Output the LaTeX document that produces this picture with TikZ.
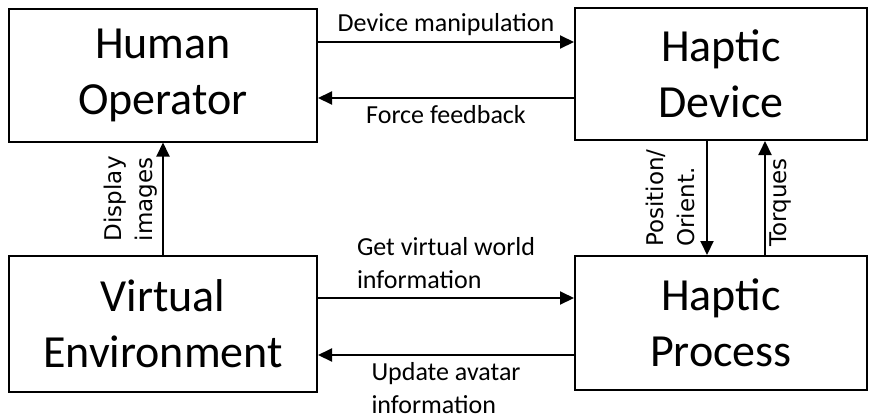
\documentclass[tikz,border=0pt]{standalone}
\usepackage{fontspec}
\setmainfont{Carlito}
\newfontfamily\sidefont{DejaVu Sans}
\usepackage{tikz}
\usetikzlibrary{arrows.meta}

\begin{document}
\begin{tikzpicture}[x=1pt,y=-1pt,
	block/.style={shape=rectangle,draw=black,line width=2pt,align=center,
		inner sep=0pt,font=\fontsize{46}{56}\selectfont},
	flow/.style={line width=2pt,-{Triangle[length=14pt,width=13pt]}},
	lbl/.style={font=\fontsize{26}{33}\selectfont,align=left},
	vlbl/.style={font=\sidefont\fontsize{23}{31}\selectfont,align=left,rotate=90}]
	
	\useasboundingbox (0,0) rectangle (874,418);
	
	\node[block,minimum width=308pt,minimum height=133pt] (ho) at (163, 75)  {Human\\Operator};
	\node[block,minimum width=292pt,minimum height=132pt] (hd) at (721, 74)  {Haptic\\Device};
	\node[block,minimum width=308pt,minimum height=136pt] (ve) at (163, 324) {Virtual\\Environment};
	\node[block,minimum width=292pt,minimum height=134pt] (hp) at (721, 323) {Haptic\\Process};
	
	\draw[flow] ([yshift=33pt]ho.east) -- ([yshift=33pt]ho.east -| hd.west)
		node[lbl,midway,above,inner sep=5pt] {Device manipulation};
	\draw[flow] ([yshift=-24pt]hd.west) -- ([yshift=-24pt]hd.west -| ho.east)
		node[lbl,midway,below,inner sep=6pt] {Force feedback};
	\draw[flow] ([yshift=26pt]ve.east) -- ([yshift=26pt]ve.east -| hp.west)
		node[lbl,midway,above,inner sep=8pt] {Get virtual world\\information};
	\draw[flow] ([yshift=-32pt]hp.west) -- ([yshift=-32pt]hp.west -| ve.east)
		node[lbl,midway,below,inner sep=6pt] {Update avatar\\information};
	\draw[flow] (ve.north) -- (ho.south)
		node[vlbl,midway,anchor=south,inner sep=5pt] {Display\\images};
	\draw[flow] ([xshift=-14pt]hd.south) -- ([xshift=-14pt]hd.south |- hp.north)
		node[vlbl,midway,anchor=south,inner sep=11pt] {Position/\\Orient.};
	\draw[flow] ([xshift=44pt]hp.north) -- ([xshift=44pt]hp.north |- hd.south)
		node[vlbl,pos=0.46,anchor=north,inner sep=4pt] {Torques};
	
\end{tikzpicture}
\end{document}
